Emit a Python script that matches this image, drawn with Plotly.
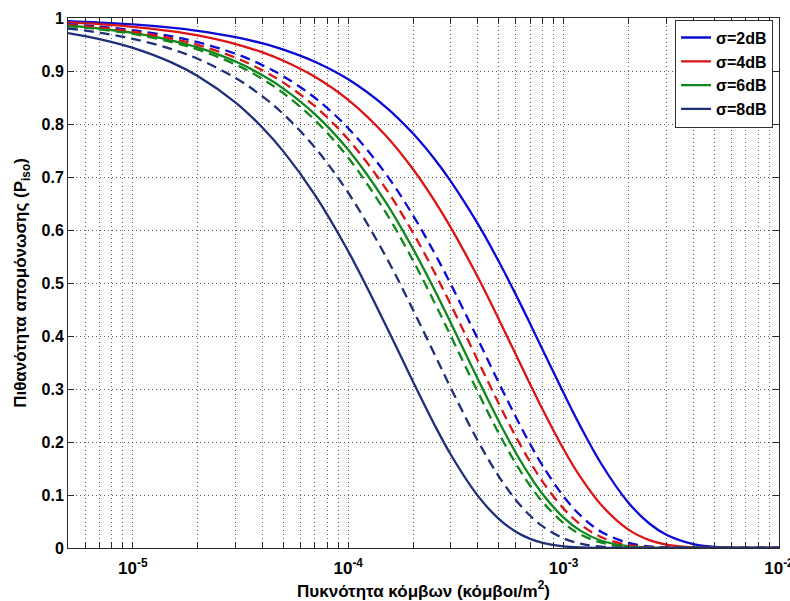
import plotly.graph_objects as go

# node density (nodes/m^2)
density = [5e-6, 7e-6, 1e-5, 1.5e-5, 2e-5, 3e-5, 4e-5, 5e-5, 7e-5, 1e-4,
           1.5e-4, 2e-4, 2.5e-4, 3e-4, 4e-4, 5e-4, 6e-4, 7e-4, 8e-4, 1e-3,
           1.2e-3, 1.5e-3, 2e-3, 2.5e-3, 3e-3, 4e-3, 5e-3, 7e-3, 1e-2]

# isolation probability, solid curves
p_s2 = [0.9939, 0.9914, 0.9878, 0.9817, 0.9757, 0.9638, 0.9520, 0.9404, 0.9175, 0.8843,
        0.8315, 0.7819, 0.7353, 0.6914, 0.6114, 0.5406, 0.4781, 0.4227, 0.3738, 0.2923,
        0.2286, 0.1580, 0.0854, 0.0462, 0.0250, 0.0073, 0.0021, 0.0002, 0.0]
p_s4 = [0.9916, 0.9883, 0.9833, 0.9751, 0.9670, 0.9508, 0.9350, 0.9194, 0.8891, 0.8454,
        0.7773, 0.7146, 0.6570, 0.6041, 0.5107, 0.4317, 0.3649, 0.3085, 0.2608, 0.1864,
        0.1332, 0.0805, 0.0347, 0.0150, 0.0065, 0.0012, 0.0002, 0.0, 0.0]
p_s6 = [0.9858, 0.9802, 0.9718, 0.9580, 0.9444, 0.9178, 0.8919, 0.8668, 0.8186, 0.7513,
        0.6512, 0.5644, 0.4892, 0.4240, 0.3185, 0.2393, 0.1798, 0.1351, 0.1015, 0.0573,
        0.0323, 0.0137, 0.0033, 0.0008, 0.0002, 0.0, 0.0, 0.0, 0.0]
p_s8 = [0.9714, 0.9602, 0.9436, 0.9167, 0.8905, 0.8403, 0.7929, 0.7483, 0.6663, 0.5599,
        0.4190, 0.3135, 0.2346, 0.1755, 0.0983, 0.0550, 0.0308, 0.0172, 0.0097, 0.0030,
        0.0009, 0.0002, 0.0, 0.0, 0.0, 0.0, 0.0, 0.0, 0.0]

# isolation probability, dashed curves
p_d2 = [0.9884, 0.9838, 0.9770, 0.9657, 0.9545, 0.9325, 0.9110, 0.8900, 0.8495, 0.7921,
        0.7050, 0.6275, 0.5585, 0.4971, 0.3938, 0.3119, 0.2471, 0.1957, 0.1550, 0.0973,
        0.0610, 0.0303, 0.0095, 0.0030, 0.0009, 0.0001, 0.0, 0.0, 0.0]
p_d4 = [0.9871, 0.9820, 0.9743, 0.9618, 0.9493, 0.9250, 0.9012, 0.8781, 0.8336, 0.7711,
        0.6771, 0.5945, 0.5220, 0.4584, 0.3535, 0.2725, 0.2101, 0.1620, 0.1249, 0.0743,
        0.0442, 0.0202, 0.0055, 0.0015, 0.0004, 0.0, 0.0, 0.0, 0.0]
p_d6 = [0.9848, 0.9788, 0.9699, 0.9551, 0.9406, 0.9123, 0.8848, 0.8581, 0.8072, 0.7364,
        0.6319, 0.5423, 0.4653, 0.3993, 0.2941, 0.2165, 0.1594, 0.1174, 0.0865, 0.0469,
        0.0254, 0.0102, 0.0022, 0.0005, 0.0001, 0.0, 0.0, 0.0, 0.0]
p_d8 = [0.9802, 0.9724, 0.9608, 0.9418, 0.9231, 0.8869, 0.8521, 0.8187, 0.7558, 0.6703,
        0.5488, 0.4493, 0.3679, 0.3012, 0.2019, 0.1353, 0.0907, 0.0608, 0.0408, 0.0183,
        0.0082, 0.0025, 0.0003, 0.0, 0.0, 0.0, 0.0, 0.0, 0.0]

labels = ["σ=2dB", "σ=4dB", "σ=6dB", "σ=8dB"]
colors = ["#0a0ad8", "#dc1414", "#10871a", "#1f2f78"]

x_major = [1e-5, 1e-4, 1e-3, 1e-2]
x_major_text = ["10<sup>-5</sup>", "10<sup>-4</sup>", "10<sup>-3</sup>", "10<sup>-2</sup>"]
y_ticks = [0, 0.1, 0.2, 0.3, 0.4, 0.5, 0.6, 0.7, 0.8, 0.9, 1]
y_text = ["0", "0.1", "0.2", "0.3", "0.4", "0.5", "0.6", "0.7", "0.8", "0.9", "1"]

x_minor = [m * 10.0 ** e for e in range(-6, -2) for m in range(2, 10)]
x_minor = [v for v in x_minor if 5e-6 <= v <= 1e-2]

fig = go.Figure()

for ys, name, col in zip([p_s2, p_s4, p_s6, p_s8], labels, colors):
    fig.add_trace(go.Scatter(x=density, y=ys, mode="lines", name=name,
                             line=dict(color=col, width=2.3, shape="spline")))
for ys, col in zip([p_d2, p_d4, p_d6, p_d8], colors):
    fig.add_trace(go.Scatter(x=density, y=ys, mode="lines", showlegend=False,
                             line=dict(color=col, width=2.3, dash="10px,6px", shape="spline")))

grid_col = "rgba(40,40,40,0.75)"
grid_dash = "1px,3px"
axis_col = "#2a2a2a"

fig.update_layout(
    width=790, height=601,
    margin=dict(l=68, r=11, t=18, b=53),
    paper_bgcolor="white", plot_bgcolor="white",
    font=dict(family="Liberation Sans, Arial, sans-serif", size=16, color="black", weight="bold"),
    legend=dict(x=0.9916, y=0.997, xanchor="right", yanchor="top",
                bgcolor="white", bordercolor="#303030", borderwidth=1,
                font=dict(size=16, weight="bold"), tracegroupgap=0,
                itemwidth=30),
    showlegend=True,
)

fig.update_xaxes(
    type="log", range=[-5.30103, -1.99995], automargin=False,
    tickmode="array", tickvals=x_major, ticktext=x_major_text,
    ticks="inside", ticklen=6, tickcolor=axis_col, tickwidth=1,
    ticklabelstandoff=5, ticklabeloverflow="allow",
    showline=True, linecolor=axis_col, linewidth=1, mirror="ticks",
    showgrid=True, gridcolor=grid_col, gridwidth=1, griddash=grid_dash,
    zeroline=False,
    minor=dict(tickmode="array", tickvals=x_minor, ticks="inside", ticklen=6,
               tickcolor=axis_col, showgrid=True, gridcolor=grid_col,
               gridwidth=1, griddash=grid_dash),
    tickfont=dict(size=17, weight="bold"),
    title=dict(text="Πυκνότητα κόμβων (κόμβοι/m<sup>2</sup>)", standoff=4,
               font=dict(size=17, weight="bold")),
)

fig.update_yaxes(
    range=[0, 1], automargin=False,
    tickmode="array", tickvals=y_ticks, ticktext=y_text,
    ticks="inside", ticklen=6, tickcolor=axis_col, tickwidth=1,
    showline=True, linecolor=axis_col, linewidth=1, mirror="ticks",
    showgrid=True, gridcolor=grid_col, gridwidth=1, griddash=grid_dash,
    zeroline=False,
    tickfont=dict(size=16, weight="bold"),
    title=dict(text="Πιθανότητα απομόνωσης (P<sub>iso</sub>)", standoff=10,
               font=dict(size=17, weight="bold")),
)

fig.write_html("out.html")
